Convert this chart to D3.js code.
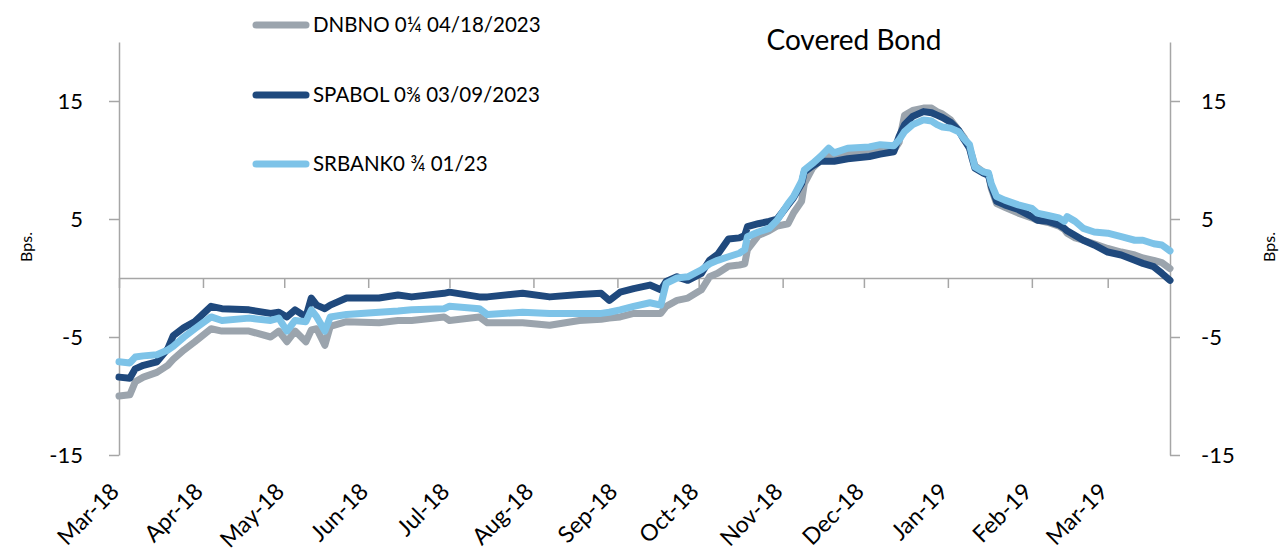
<!DOCTYPE html>
<html>
<head>
<meta charset="utf-8">
<script src="https://cdn.jsdelivr.net/npm/d3@7"></script>
<style>
  html, body { margin: 0; padding: 0; background: #ffffff; }
  svg { display: block; font-family: Lato, "Open Sans", sans-serif; }
</style>
</head>
<body>
<svg id="chart" width="1280" height="558"></svg>
<script>
// ---------- DATA ----------
const title = "Covered Bond";
const yAxisLabel = "Bps.";
const seriesNames = ["DNBNO 0\u00BC 04/18/2023", "SPABOL 0\u215C 03/09/2023", "SRBANK0 \u00BE 01/23"];
const seriesColors = ["#9ba4ad", "#1f497d", "#7dc3e8"];
const yTicks = [-15, -5, 5, 15];

const dates = [
  "2018-03-01","2018-03-05","2018-03-07","2018-03-10","2018-03-15","2018-03-19","2018-03-21","2018-03-25","2018-03-29",
  "2018-04-04","2018-04-08","2018-04-18","2018-04-26","2018-04-29","2018-05-02","2018-05-05","2018-05-09","2018-05-11",
  "2018-05-13","2018-05-16","2018-05-18","2018-05-24","2018-06-05","2018-06-12","2018-06-17","2018-06-29",
  "2018-07-01","2018-07-12","2018-07-15","2018-07-28","2018-08-07","2018-08-18","2018-08-26","2018-08-29","2018-09-02",
  "2018-09-07","2018-09-13","2018-09-17","2018-09-19","2018-09-23","2018-09-27","2018-10-02","2018-10-05","2018-10-08",
  "2018-10-12","2018-10-16","2018-10-18","2018-10-19","2018-10-23","2018-10-27","2018-10-30","2018-11-03","2018-11-05",
  "2018-11-08","2018-11-09","2018-11-12","2018-11-15","2018-11-18","2018-11-20","2018-11-25","2018-12-03","2018-12-07",
  "2018-12-12","2018-12-14","2018-12-16","2018-12-19","2018-12-23","2018-12-26","2018-12-28","2018-12-30","2019-01-02",
  "2019-01-05","2019-01-07","2019-01-09","2019-01-10","2019-01-11","2019-01-14","2019-01-16","2019-01-17","2019-01-19",
  "2019-01-22","2019-01-27","2019-02-01","2019-02-03","2019-02-07","2019-02-11","2019-02-13","2019-02-14","2019-02-17",
  "2019-02-20","2019-02-24","2019-03-01","2019-03-06","2019-03-11","2019-03-14","2019-03-18","2019-03-21","2019-03-24"
];

const dnbno = [
  -10.0,-9.9,-8.8,-8.4,-8.0,-7.4,-6.9,-6.1,-5.4,
  -4.3,-4.5,-4.5,-5.0,-4.5,-5.4,-4.5,-5.4,-4.4,
  -4.3,-5.7,-4.1,-3.7,-3.8,-3.6,-3.6,-3.3,
  -3.6,-3.3,-3.8,-3.8,-4.0,-3.6,-3.5,-3.4,-3.3,
  -3.0,-3.0,-3.0,-2.4,-1.9,-1.7,-1.0,0.1,0.4,
  1.0,1.1,1.2,2.4,3.6,4.0,4.4,4.6,5.5,
  6.5,8.0,9.3,10.0,10.3,10.2,10.5,10.6,10.8,
  10.8,11.5,13.8,14.2,14.4,14.4,14.1,13.9,13.4,
  12.5,11.9,11.0,10.3,9.5,9.0,8.8,7.6,6.3,
  6.0,5.5,5.1,4.9,4.7,4.4,4.1,3.8,3.4,
  3.2,2.9,2.5,2.2,1.95,1.7,1.5,1.3,0.8
];

const spabol = [
  -8.4,-8.5,-7.7,-7.4,-7.1,-6.0,-4.9,-4.2,-3.7,
  -2.4,-2.6,-2.7,-3.0,-2.9,-3.3,-2.7,-3.3,-1.7,
  -2.3,-2.6,-2.3,-1.7,-1.7,-1.44,-1.6,-1.3,
  -1.2,-1.6,-1.6,-1.3,-1.6,-1.4,-1.3,-1.9,-1.2,
  -0.9,-0.6,-1.0,-0.3,0.1,-0.2,0.4,1.5,2.0,
  3.3,3.4,3.6,4.35,4.6,4.8,5.0,6.2,6.8,
  8.0,9.0,9.5,9.9,9.9,9.9,10.1,10.3,10.5,
  10.7,12.0,13.0,13.7,14.1,14.0,13.8,13.6,13.2,
  12.5,11.7,11.0,10.1,9.3,8.9,8.7,7.8,6.5,
  6.2,5.8,5.2,4.9,4.8,4.5,4.2,4.0,3.6,
  3.2,2.8,2.2,1.95,1.5,1.24,0.96,0.4,-0.2
];

const srbank = [
  -7.1,-7.2,-6.7,-6.6,-6.5,-6.1,-5.8,-5.0,-4.3,
  -3.3,-3.6,-3.4,-3.6,-3.4,-4.5,-3.6,-3.7,-2.7,
  -3.3,-4.5,-3.3,-3.1,-2.9,-2.8,-2.7,-2.6,
  -2.4,-2.6,-3.1,-2.9,-3.0,-3.0,-3.0,-2.9,-2.7,
  -2.4,-2.1,-2.3,-0.45,0.0,0.1,0.7,1.2,1.5,
  1.8,2.1,2.4,3.5,3.9,4.2,4.9,6.3,6.9,
  8.2,9.15,9.7,10.3,11.0,10.6,11.0,11.1,11.3,
  11.2,11.7,12.4,13.0,13.4,13.3,13.0,12.8,12.7,
  12.4,11.8,11.3,10.3,9.4,9.0,8.9,8.0,6.9,
  6.6,6.2,5.9,5.5,5.3,5.1,4.8,5.2,4.8,
  4.2,3.9,3.8,3.5,3.2,3.2,2.9,2.8,2.3
];

// ---------- LAYOUT ----------
const svg = d3.select("#chart");
const parse = d3.timeParse("%Y-%m-%d");
const dateObjs = dates.map(parse);
const seriesValues = [dnbno, spabol, srbank];

const x = d3.scaleTime()
  .domain([dateObjs[0], dateObjs[dateObjs.length - 1]])
  .range([119, 1170]);
const y = d3.scaleLinear().domain([-15, 20]).range([455, 42]);

const axisColor = "#a6a6a6";
const numFmt = d => String(d);

// Left axis
const gLeft = svg.append("g").attr("transform", "translate(119,0)")
  .call(d3.axisLeft(y).tickValues(yTicks).tickSizeInner(10).tickSizeOuter(0).tickPadding(26).tickFormat(numFmt));
// Right axis
const gRight = svg.append("g").attr("transform", "translate(1170,0)")
  .call(d3.axisRight(y).tickValues(yTicks).tickSizeInner(10).tickSizeOuter(0).tickPadding(21).tickFormat(numFmt));
[gLeft, gRight].forEach(g => {
  g.select(".domain").attr("stroke", axisColor).attr("stroke-width", 1.5);
  g.selectAll(".tick line").attr("stroke", axisColor).attr("stroke-width", 1.5);
  g.selectAll(".tick text").attr("fill", "#000").style("font-size", "22px").style("font-family", "Lato, sans-serif");
});

// Zero line with month ticks
const months = d3.timeMonth.range(d3.timeMonth.ceil(x.domain()[0]), x.domain()[1]);
const gX = svg.append("g").attr("transform", `translate(0,${y(0)})`)
  .call(d3.axisBottom(x).tickValues(months).tickSizeInner(10).tickSizeOuter(0).tickFormat(""));
gX.select(".domain").attr("stroke", axisColor).attr("stroke-width", 1.5);
gX.selectAll(".tick line").attr("stroke", axisColor).attr("stroke-width", 1.5);

// Month labels at bottom
const gXLab = svg.append("g").attr("transform", "translate(0,478)")
  .call(d3.axisBottom(x).tickValues(months).tickSize(0).tickFormat(d3.timeFormat("%b-%y")));
gXLab.select(".domain").remove();
gXLab.selectAll(".tick text")
  .attr("x", 0).attr("y", 0).attr("dy", 0)
  .attr("text-anchor", "end")
  .attr("transform", "translate(1,15) rotate(-45)")
  .attr("fill", "#000")
  .style("font-size", "23px").style("font-family", "Lato, sans-serif");

// Lines
const line = d3.line()
  .x((d, i) => x(dateObjs[i]))
  .y(d => y(d));
seriesValues.forEach((vals, k) => {
  svg.append("path")
    .datum(vals)
    .attr("d", line)
    .attr("fill", "none")
    .attr("stroke", seriesColors[k])
    .attr("stroke-width", 7)
    .attr("stroke-linejoin", "round")
    .attr("stroke-linecap", "round");
});

// Title
svg.append("text").attr("x", 854).attr("y", 50).attr("text-anchor", "middle")
  .style("font-size", "28px").attr("fill", "#000").text(title);

// Axis titles
svg.append("text").attr("transform", "translate(25,247) rotate(-90)")
  .attr("text-anchor", "middle").attr("dominant-baseline", "central")
  .style("font-size", "16px").attr("fill", "#000").text(yAxisLabel);
svg.append("text").attr("transform", "translate(1268,247) rotate(-90)")
  .attr("text-anchor", "middle").attr("dominant-baseline", "central")
  .style("font-size", "16px").attr("fill", "#000").text(yAxisLabel);

// Legend
const legendY = [25, 95, 164];
seriesNames.forEach((name, k) => {
  const g = svg.append("g").attr("transform", `translate(0,${legendY[k]})`);
  g.append("line").attr("x1", 256).attr("x2", 306).attr("y1", 0).attr("y2", 0)
    .attr("stroke", seriesColors[k]).attr("stroke-width", 7).attr("stroke-linecap", "round");
  g.append("text").attr("x", 313).attr("y", 0).attr("dy", "0.36em")
    .style("font-size", "20.5px").attr("fill", "#000").text(name);
});
</script>
</body>
</html>
